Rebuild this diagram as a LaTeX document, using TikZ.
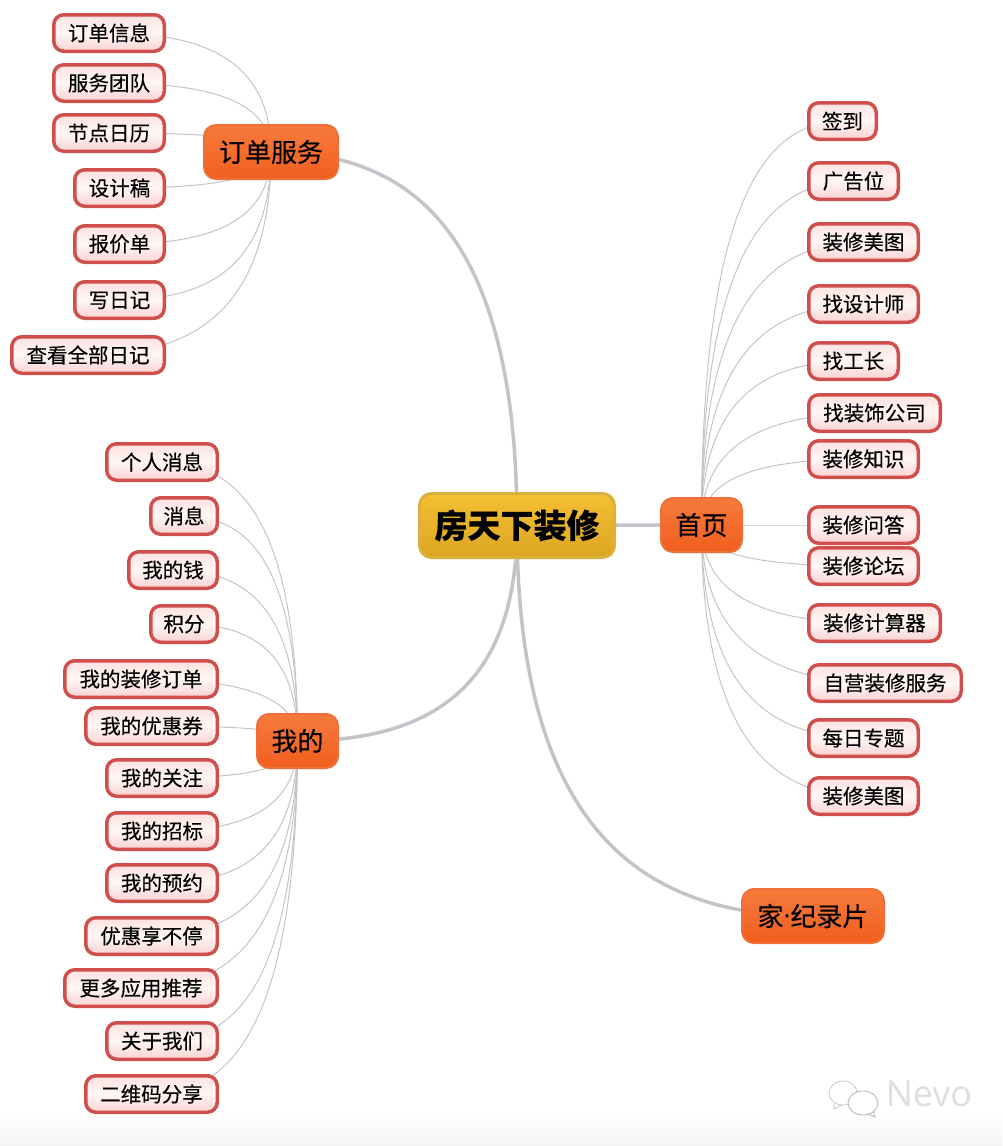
\documentclass[tikz,border=0pt]{standalone}
\usepackage{fontspec}
\setmainfont{Noto Sans CJK SC}[FakeBold=0.35]
\newfontfamily\wmfont{Open Sans}
\usetikzlibrary{backgrounds,calc}

\definecolor{leafedge}{HTML}{CF4F4D}
\definecolor{leaftop}{HTML}{FDE2E0}
\definecolor{leafmid}{HTML}{FFF6F5}
\definecolor{leafbot}{HTML}{FAD2D2}
\definecolor{branchedge}{HTML}{EE7038}
\definecolor{branchtop}{HTML}{F67B3C}
\definecolor{branchbot}{HTML}{F15E1E}
\definecolor{rootedge}{HTML}{D9B23E}
\definecolor{roottop}{HTML}{F4BF33}
\definecolor{rootbot}{HTML}{DCA623}
\definecolor{linkgrey}{HTML}{C5C3C9}

\tikzset{
  leaf/.style={draw=leafedge,line width=3.5pt,rounded corners=10pt,top color=leaftop,bottom color=leafbot,middle color=leafmid,
    inner sep=0pt,minimum height=36.5pt,font=\fontsize{20.5}{24}\selectfont},
  branch/.style={draw=branchedge,line width=2pt,rounded corners=12pt,top color=branchtop,bottom color=branchbot,
    inner sep=0pt,font=\fontsize{26}{30}\selectfont},
  mainroot/.style={draw=rootedge,line width=3pt,rounded corners=12pt,top color=roottop,bottom color=rootbot,
    inner sep=0pt,font=\bfseries\fontsize{33}{38}\selectfont},
  mainlink/.style={draw=linkgrey,line width=3.5pt},
  leaflink/.style={draw=linkgrey,line width=1pt}
}

% curve between two box centres: leaves the first one upright, reaches the second one level
\newcommand{\curvelink}[3]{\draw[#1] let \p1=(#2.center),\p2=(#3.center) in
  (#2.center) .. controls (\x1,{\y1+0.8*(\y2-\y1)}) and ({\x2+0.55*(\x1-\x2)},\y2) .. (#3.center);}

\begin{document}
\begin{tikzpicture}[x=1pt,y=-1pt]
\useasboundingbox (0,0) rectangle (1002,1146);

% faint band along the bottom
\shade[top color=white,bottom color=black!4,draw=none] (0,1112) rectangle (1002,1146);

% centre and branches
\node[mainroot,minimum width=195pt,minimum height=64pt] (root) at (517,525.5) {房天下装修};
\node[branch,minimum width=134pt,minimum height=54pt] (order) at (271,152) {订单服务};
\node[branch,minimum width=81pt,minimum height=54pt] (home) at (701.5,525) {首页};
\node[branch,minimum width=81pt,minimum height=54pt] (mine) at (297.5,741) {我的};
\node[branch,minimum width=142pt,minimum height=54pt] (film) at (813,916) {家{\wmfont ·}纪录片};

% leaves of the order branch
\foreach \name/\bw/\yc/\txt in {o1/114/33/订单信息,o2/114/83/服务团队,o3/114/133/节点日历,
    o4/93/188/设计稿,o5/93/244/报价单,o6/93/300/写日记,o7/156/355/查看全部日记}
  \node[leaf,anchor=east,minimum width=\bw pt-3.5pt] (\name) at (166,\yc) {\txt};

% leaves of the home branch
\foreach \name/\bw/\yc/\txt in {h1/71/121/签到,h2/93/181/广告位,h3/113/242/装修美图,h4/113/304/找设计师,
    h5/93/361/找工长,h6/135/413/找装饰公司,h7/113/459/装修知识,h8/113/525/装修问答,h9/113/566/装修论坛,
    h10/135/623/装修计算器,h11/156/683/自营装修服务,h12/113/738/每日专题,h13/113/796/装修美图}
  \node[leaf,anchor=west,minimum width=\bw pt-3.5pt] (\name) at (807,\yc) {\txt};

% leaves of the mine branch
\foreach \name/\bw/\yc/\txt in {m1/114/462/个人消息,m2/70/516/消息,m3/92/570/我的钱,m4/70/624/积分,
    m5/156/679/我的装修订单,m6/135/726/我的优惠券,m7/114/778/我的关注,m8/114/831/我的招标,m9/114/883/我的预约,
    m10/135/936/优惠享不停,m11/156/988/更多应用推荐,m12/114/1041/关于我们,m13/135/1094/二维码分享}
  \node[leaf,anchor=east,minimum width=\bw pt-3.5pt] (\name) at (219,\yc) {\txt};

% links stay under the boxes
\begin{scope}[on background layer]
\foreach \target in {order,home,mine,film} {\curvelink{mainlink}{root}{\target}}
\foreach \leaf in {o1,o2,o3,o4,o5,o6,o7} {\curvelink{leaflink}{order}{\leaf}}
\foreach \leaf in {h1,h2,h3,h4,h5,h6,h7,h8,h9,h10,h11,h12,h13} {\curvelink{leaflink}{home}{\leaf}}
\foreach \leaf in {m1,m2,m3,m4,m5,m6,m7,m8,m9,m10,m11,m12,m13} {\curvelink{leaflink}{mine}{\leaf}}
\end{scope}

% watermark
\draw[black!22,line width=0.8pt] (843,1093) ellipse (14 and 12);
\draw[black!22,line width=0.8pt] (835,1103) -- (834,1109) -- (842,1105);
\fill[white] (863,1103) ellipse (15 and 12);
\draw[black!30,line width=0.8pt] (863,1103) ellipse (15 and 12);
\draw[black!30,line width=0.8pt] (868,1114) -- (875,1117) -- (873,1111);
\node[text=black!13,font=\wmfont\fontsize{36}{40}\selectfont,inner sep=0pt] (mark) at (929,1094) {Nevo};
\end{tikzpicture}
\end{document}
